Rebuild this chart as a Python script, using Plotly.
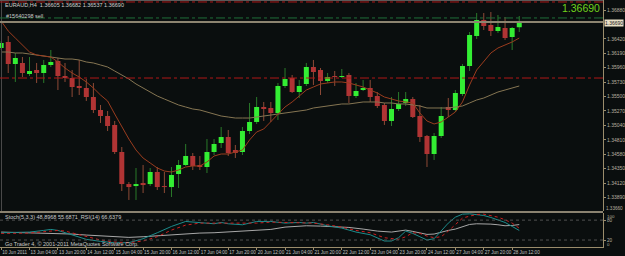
import plotly.graph_objects as go

# ---------------- data ----------------
opens = [1.36274,1.36370,1.36019,1.36035,1.35859,1.35923,1.35875,1.36003,1.36067,1.35827,
         1.35795,1.35668,1.35636,1.35492,1.35285,1.35189,1.35046,1.34615,1.34104,1.34072,
         1.34120,1.34104,1.34296,1.34072,1.34056,1.34264,1.34408,1.34551,1.34408,1.34376,
         1.34615,1.34759,1.34854,1.34647,1.34615,1.34950,1.35094,1.35333,1.35317,1.35237,
         1.35668,1.35795,1.35572,1.35700,1.35971,1.35923,1.35748,1.35827,1.35811,1.35843,
         1.35508,1.35604,1.35636,1.35508,1.35365,1.35110,1.35301,1.35397,1.35460,1.35189,
         1.34870,1.34583,1.34870,1.35333,1.35285,1.35540,1.35987,1.36465,1.36721,1.36641,
         1.36545,1.36593,1.36449,1.36605]
highs = [1.36386,1.36465,1.36194,1.36130,1.36130,1.36035,1.36083,1.36242,1.36114,1.36035,
         1.35923,1.36083,1.35779,1.35716,1.35365,1.35269,1.35110,1.34695,1.34136,1.34360,
         1.34408,1.34360,1.34376,1.34296,1.34376,1.34488,1.34743,1.34599,1.34551,1.34822,
         1.34822,1.35014,1.34966,1.34727,1.35014,1.35397,1.35492,1.35413,1.35413,1.35716,
         1.35955,1.35843,1.35764,1.36035,1.36083,1.35955,1.35875,1.35907,1.35939,1.35875,
         1.35716,1.35764,1.35764,1.35572,1.35397,1.35492,1.35572,1.35572,1.35492,1.35365,
         1.34886,1.34918,1.35333,1.35476,1.35604,1.36019,1.36529,1.36832,1.36832,1.36848,
         1.36800,1.36768,1.36609,1.36784]
lows = [1.36242,1.35875,1.35732,1.35811,1.35827,1.35716,1.35716,1.35971,1.35604,1.35732,
        1.35492,1.35524,1.35429,1.35237,1.35078,1.34950,1.34583,1.33993,1.33850,1.33850,
        1.33961,1.34072,1.34009,1.33961,1.33897,1.34041,1.34392,1.34328,1.34328,1.34280,
        1.34567,1.34679,1.34551,1.34519,1.34567,1.34902,1.35062,1.35110,1.35094,1.35126,
        1.35636,1.35556,1.35476,1.35668,1.35684,1.35524,1.35716,1.35668,1.35795,1.35397,
        1.35476,1.35588,1.35413,1.35317,1.35046,1.35030,1.35269,1.35349,1.35157,1.34775,
        1.34376,1.34488,1.34838,1.35173,1.35253,1.35508,1.35907,1.36417,1.36561,1.36465,
        1.36513,1.36402,1.36242,1.36529]
closes = [1.36354,1.36019,1.36114,1.35875,1.35907,1.35875,1.36003,1.36051,1.35827,1.35795,
          1.35652,1.35636,1.35492,1.35285,1.35189,1.35030,1.34615,1.34104,1.34056,1.34104,
          1.34088,1.34296,1.34056,1.34056,1.34248,1.34408,1.34551,1.34392,1.34376,1.34615,
          1.34743,1.34854,1.34599,1.34599,1.34950,1.35094,1.35333,1.35301,1.35237,1.35668,
          1.35779,1.35572,1.35668,1.35971,1.35891,1.35748,1.35811,1.35811,1.35827,1.35508,
          1.35588,1.35636,1.35492,1.35349,1.35110,1.35301,1.35381,1.35460,1.35173,1.34854,
          1.34583,1.34870,1.35189,1.35285,1.35556,1.35987,1.36481,1.36721,1.36625,1.36545,
          1.36609,1.36433,1.36593,1.36690]

fast_ma = [1.36705,1.36545,1.36433,1.36322,1.36210,1.36162,1.36146,1.36130,1.36051,1.35955,
           1.35875,1.35811,1.35732,1.35636,1.35524,1.35429,1.35221,1.35014,1.34822,1.34647,
           1.34519,1.34440,1.34360,1.34312,1.34296,1.34328,1.34376,1.34392,1.34392,1.34456,
           1.34551,1.34583,1.34583,1.34615,1.34647,1.34807,1.34934,1.34982,1.35094,1.35205,
           1.35333,1.35413,1.35508,1.35604,1.35652,1.35700,1.35716,1.35732,1.35732,1.35716,
           1.35684,1.35652,1.35604,1.35556,1.35492,1.35460,1.35429,1.35413,1.35397,1.35237,
           1.35110,1.35062,1.35094,1.35173,1.35253,1.35413,1.35684,1.35923,1.36051,1.36194,
           1.36274,1.36322,1.36370,1.36433]
slow_ma = [1.36210,1.36210,1.36194,1.36194,1.36178,1.36162,1.36146,1.36130,1.36114,1.36098,
           1.36098,1.36083,1.36051,1.36035,1.36003,1.35971,1.35907,1.35843,1.35779,1.35700,
           1.35636,1.35572,1.35508,1.35460,1.35413,1.35365,1.35333,1.35301,1.35285,1.35253,
           1.35221,1.35189,1.35173,1.35157,1.35157,1.35157,1.35173,1.35189,1.35205,1.35221,
           1.35237,1.35253,1.35269,1.35285,1.35317,1.35333,1.35349,1.35365,1.35381,1.35381,
           1.35397,1.35413,1.35413,1.35413,1.35397,1.35397,1.35381,1.35381,1.35365,1.35349,
           1.35317,1.35317,1.35317,1.35317,1.35333,1.35349,1.35397,1.35445,1.35476,1.35524,
           1.35572,1.35604,1.35636,1.35668]

rsi_idx = [0,2,4,6,8,10,12,14,16,18,20,22,24,26,28,30,32,34,36,38,40,42,43,45,47,49,51,53,55,
           56,57,58,59,60,61,62,63,64,65,66,67,68,69,70,71,72,73]
rsi_val = [44,43,42,41,41,38,35,32,29,28,30,33,36,39,41,42,45,46,49,52,59,61,63,62,60,58,53,47,44,
           46,50,46,42,37,38,44,49,53,61,67,69,69,68,66,63,64,66.6]
stoch_idx = [0,2,4,6,7,8,9,10,12,14,16,18,19,20,22,24,26,27,28,30,31,32,34,35,36,38,40,42,43,44,
             46,48,50,52,54,55,56,57,58,59,60,61,62,63,64,65,66,67,68,69,70,71,72,73]
stoch_val = [42,42,44,49,52,49,42,34,22,16,12,12,17,24,42,61,76,74,71,69,73,69,66,71,76,76,71,73,71,73,
             63,56,44,36,17,17,27,47,40,30,20,24,47,71,89,98,99,97,94,88,81,73,61,48.9]
signal_idx = [0,2,4,6,8,9,10,12,14,16,18,20,22,24,26,28,30,32,34,36,38,40,42,44,46,48,50,52,54,56,
              57,58,59,60,61,62,63,64,65,66,67,68,69,70,71,72,73]
signal_val = [40,40,41,45,49,47,42,30,20,14,12,17,30,50,65,71,71,71,69,71,74,73,72,71,66,59,49,42,27,22,
              30,42,40,32,27,30,47,66,86,92,97,98,94,89,81,71,55.7]

tick_idx = list(range(0, 73, 4))
tick_labels = ["10 Jun 2011", "13 Jun 04:00", "13 Jun 20:00", "14 Jun 12:00", "15 Jun 04:00",
               "15 Jun 20:00", "16 Jun 12:00", "17 Jun 04:00", "17 Jun 20:00", "20 Jun 12:00",
               "21 Jun 04:00", "21 Jun 20:00", "22 Jun 12:00", "23 Jun 04:00", "23 Jun 20:00",
               "24 Jun 12:00", "27 Jun 04:00", "27 Jun 20:00", "28 Jun 12:00"]
price_ticks = [1.36880, 1.36420, 1.36190, 1.35960, 1.35730, 1.35500, 1.35270,
               1.35040, 1.34810, 1.34580, 1.34350, 1.34120, 1.33890]
ind_ticks = [80, 20]
ind_edge_labels = ["100", "0"]
ind_levels = [80, 20]

bid_price = 1.36690
ask_level = 1.36753
red_levels = [1.37008, 1.35795]
bottom_price_label = "1.33660"
title_text = "EURAUD,H4  1.36605 1.36682 1.36537 1.36690"
order_text = "#15640298 sell"
ind_text = "Stoch(5,3,3) 48.8968 55.6871  RSI(14) 66.6379"
copy_text = "Go Trader 4, \u00a9 2001-2011 MetaQuotes Software Corp."

# ---------------- styling ----------------
BG = "#0a0e0e"
AX = "#9a8c6c"
BULL = "#33ee33"
BULL_WICK = "#2a7a2a"
BEAR = "#b03434"
BEAR_WICK = "#8e4a36"
FONT = "Liberation Sans, Arial, sans-serif"
W, H = 625, 256
ML, MR, MT, MB = 0, 17, 0, 9
PW, PH = W - ML - MR, H - MT - MB


def px(x):
    return x / PW


def py(y):
    return (PH - y) / PH


fig = go.Figure()


def seg(idx_list, a, b):
    xs, ys = [], []
    for i in idx_list:
        xs += [i, i, None]
        ys += [a[i], b[i], None]
    return xs, ys


n = len(opens)
bull = [i for i in range(n) if closes[i] >= opens[i]]
bear = [i for i in range(n) if closes[i] < opens[i]]

for idx, col in ((bull, BULL_WICK), (bear, BEAR_WICK)):
    xs, ys = seg(idx, lows, highs)
    fig.add_trace(go.Scatter(x=xs, y=ys, mode="lines", line=dict(color=col, width=1),
                             hoverinfo="skip", showlegend=False, xaxis="x", yaxis="y"))
for idx, col in ((bull, BULL), (bear, BEAR)):
    xs, ys = seg(idx, opens, closes)
    fig.add_trace(go.Scatter(x=xs, y=ys, mode="lines", line=dict(color=col, width=5),
                             hoverinfo="skip", showlegend=False, xaxis="x", yaxis="y"))

xi = list(range(n))
fig.add_trace(go.Scatter(x=xi, y=slow_ma, mode="lines", line=dict(color="#857552", width=1),
                         showlegend=False, xaxis="x", yaxis="y"))
fig.add_trace(go.Scatter(x=xi, y=fast_ma, mode="lines", line=dict(color="#9a3c1e", width=1),
                         showlegend=False, xaxis="x", yaxis="y"))

fig.add_trace(go.Scatter(x=rsi_idx, y=rsi_val, mode="lines", line=dict(color="#a8a8a8", width=1),
                         showlegend=False, xaxis="x2", yaxis="y2"))
fig.add_trace(go.Scatter(x=stoch_idx, y=stoch_val, mode="lines", line=dict(color="#1c8c8c", width=1),
                         showlegend=False, xaxis="x2", yaxis="y2"))
fig.add_trace(go.Scatter(x=signal_idx, y=signal_val, mode="lines",
                         line=dict(color="#cc2020", width=1, dash="dot"),
                         showlegend=False, xaxis="x2", yaxis="y2"))

xr = [-0.16, 84.8]
main_dom = [py(211), 1]
ind_dom = [0, py(213)]

shapes = []
shapes.append(dict(type="line", xref="paper", yref="paper", x0=px(1.5), x1=px(1.5), y0=py(211), y1=1,
                   line=dict(color="#4a4a4a", width=1)))
shapes.append(dict(type="line", xref="paper", yref="paper", x0=0, x1=1, y0=py(0.5), y1=py(0.5),
                   line=dict(color="#5a5a5a", width=1)))
for lv in red_levels:
    shapes.append(dict(type="line", xref="paper", yref="y", x0=0, x1=1, y0=lv, y1=lv,
                       line=dict(color="#b01818", width=1, dash="dashdot")))
shapes.append(dict(type="line", xref="paper", yref="y", x0=0, x1=1, y0=ask_level, y1=ask_level,
                   line=dict(color="#1f6f3a", width=1, dash="dashdot")))
shapes.append(dict(type="line", xref="paper", yref="y", x0=0, x1=1, y0=bid_price, y1=bid_price,
                   line=dict(color="#8c8470", width=2)))
shapes.append(dict(type="line", xref="paper", yref="paper", x0=0, x1=1, y0=py(212), y1=py(212),
                   line=dict(color="#8a8270", width=2)))
for lv in ind_levels:
    shapes.append(dict(type="line", xref="paper", yref="y2", x0=0, x1=1, y0=lv, y1=lv,
                       line=dict(color="#505050", width=1, dash="dot")))

ann = []


def txt(t, x, y, size=5.5, color="#c8c8c8", xanchor="left", **kw):
    ann.append(dict(text=t, x=px(x), y=py(y), xref="paper", yref="paper", showarrow=False,
                    xanchor=xanchor, yanchor="middle",
                    font=dict(family=FONT, size=size, color=color), **kw))


txt(title_text, 3, 4.5, size=5.5, color="#d0d0d0")
txt(order_text, 4, 16, size=5.5, color="#c8c8c8")
txt("%.5f" % bid_price, 607, 7.5, size=10.5, color="#6fd31c", xanchor="right")
txt("%.5f" % bid_price, 609, 22.7, size=5, color="#1a1a1a", bgcolor="#e8dfc6", borderpad=0)
txt(bottom_price_label, 610, 208.6, size=4.6, color="#b8b0a0", borderpad=0)
txt(ind_edge_labels[0], 611, 216.2, size=4.4, color="#b8b0a0", borderpad=0)
txt(ind_edge_labels[1], 611, 244.0, size=4.4, color="#b8b0a0", borderpad=0)
txt(ind_text, 3, 217, size=5.5, color="#c8c8c8")
txt(copy_text, 3, 243.5, size=5.5, color="#c8c8c8")

fig.update_layout(
    width=W, height=H, margin=dict(l=ML, r=MR, t=MT, b=MB),
    paper_bgcolor=BG, plot_bgcolor=BG, showlegend=False,
    shapes=shapes, annotations=ann,
    xaxis=dict(domain=[0, 1], range=xr, anchor="y", showticklabels=False, showgrid=False,
               zeroline=False, showline=False, ticks=""),
    xaxis2=dict(domain=[0, 1], range=xr, anchor="y2", matches="x", showgrid=False, zeroline=False,
                tickmode="array", tickvals=tick_idx, ticktext=tick_labels, tickangle=0,
                ticklabelposition="outside right", ticks="outside", ticklen=2, tickcolor=AX,
                tickfont=dict(family=FONT, size=4.6, color="#c0c0c0"),
                showline=True, linecolor=AX, linewidth=1),
    yaxis=dict(domain=main_dom, range=[1.33674, 1.370395], side="right", anchor="x",
               tickmode="array", tickvals=price_ticks, ticktext=["%.5f" % v for v in price_ticks],
               ticks="outside", ticklen=2, tickcolor=AX,
               tickfont=dict(family=FONT, size=5, color="#b8b0a0"),
               showline=True, linecolor=AX, linewidth=1, showgrid=False, zeroline=False),
    yaxis2=dict(domain=ind_dom, range=[-1, 101.5], side="right", anchor="x2",
                tickmode="array", tickvals=ind_ticks, ticktext=[str(v) for v in ind_ticks],
                ticks="outside", ticklen=2, tickcolor=AX,
                tickfont=dict(family=FONT, size=4.6, color="#b8b0a0"),
                showline=True, linecolor=AX, linewidth=1, showgrid=False, zeroline=False),
)

fig.write_html("out.html")
